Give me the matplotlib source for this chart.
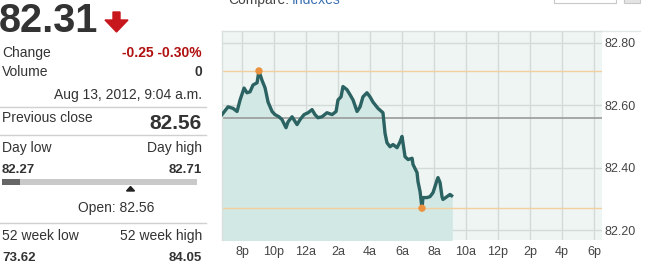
import matplotlib
matplotlib.use("Agg")
import matplotlib.pyplot as plt
import matplotlib.patches as mpatches
from matplotlib.lines import Line2D

plt.rcParams['font.family'] = ['Liberation Sans', 'DejaVu Sans']

# ===== data (hours since midnight Aug 12, price) =====
hours = [18.75, 19.13, 19.44, 19.69, 19.88, 20.13, 20.31, 20.5, 20.69, 20.94,
         21.06, 21.25, 21.44, 21.63, 21.88, 22.06, 22.31, 22.5, 22.75, 22.88,
         23.13, 23.44, 23.63, 23.88, 24.13, 24.38, 24.56, 24.75, 25.0, 25.31,
         25.63, 25.88, 26.0, 26.19, 26.31, 26.56, 26.75, 26.94, 27.19, 27.38,
         27.56, 27.81, 28.0, 28.19, 28.5, 28.81, 28.94, 29.06, 29.25, 29.44,
         29.69, 29.88, 30.0, 30.06, 30.19, 30.38, 30.63, 30.69, 30.94, 31.0,
         31.13, 31.25, 31.31, 31.56, 31.75, 31.94, 32.19, 32.25, 32.38, 32.5,
         32.56, 32.81, 33.0, 33.1]
prices = [82.570, 82.595, 82.590, 82.580, 82.617, 82.655, 82.640, 82.643, 82.665, 82.672,
          82.710, 82.680, 82.656, 82.610, 82.580, 82.570, 82.563, 82.554, 82.528, 82.547,
          82.563, 82.538, 82.554, 82.570, 82.576, 82.586, 82.570, 82.560, 82.563, 82.576,
          82.570, 82.580, 82.617, 82.627, 82.660, 82.650, 82.634, 82.617, 82.580, 82.595,
          82.627, 82.640, 82.627, 82.610, 82.590, 82.576, 82.510, 82.480, 82.467, 82.474,
          82.464, 82.483, 82.500, 82.480, 82.435, 82.426, 82.430, 82.410, 82.384, 82.355,
          82.323, 82.270, 82.304, 82.304, 82.307, 82.320, 82.360, 82.368, 82.352, 82.307,
          82.298, 82.307, 82.314, 82.310]

prev_close = 82.56
day_high = 82.71
day_low = 82.27
high_hour = 21.06
low_hour = 31.25

xticks = [20, 22, 24, 26, 28, 30, 32, 34, 36, 38, 40, 42]
xticklabels = ["8p", "10p", "12a", "2a", "4a", "6a", "8a", "10a", "12p", "2p", "4p", "6p"]
yticks = [82.2, 82.4, 82.6, 82.8]

W, H = 646, 267


def fx(x):
    return x / W


def fy(y):
    return 1 - y / H


fig = plt.figure(figsize=(W / 100, H / 100), dpi=100)
fig.patch.set_facecolor("white")

# ===== chart =====
ax = fig.add_axes([fx(222), fy(240), (602 - 222) / W, (240 - 31) / H])
ax.set_facecolor("#eff5f2")
ax.set_xlim(18.75, 42.5)
ax.set_ylim(82.168, 82.838)

ax.fill_between(hours, prices, 82.168, color="#d2e8e5", zorder=1)
ax.plot(hours, prices, color="#2b6262", lw=2.4, solid_joinstyle="round", zorder=4)

ax.axhline(prev_close, color="#9a9a9a", lw=1.2, zorder=2)
ax.axhline(day_high, color="#f2cf9c", lw=1.0, zorder=2)
ax.axhline(day_low, color="#f2cf9c", lw=1.0, zorder=2)
ax.scatter([high_hour, low_hour], [day_high, day_low], s=28, color="#eb9240",
           zorder=5, edgecolors="none")

ax.set_xticks(xticks)
ax.set_xticklabels(xticklabels)
ax.set_yticks(yticks)
ax.set_yticklabels(["%.2f" % v for v in yticks])
ax.yaxis.tick_right()
ax.tick_params(length=0, labelsize=9, labelcolor="#444444")
ax.tick_params(axis="y", pad=2)
ax.tick_params(axis="x", pad=4)
ax.grid(True, color="#d3dbd8", lw=1.0, zorder=0)
ax.set_axisbelow(True)
for s in ax.spines.values():
    s.set_color("#d9dfdc")
    s.set_linewidth(1.0)
ax.spines["bottom"].set_visible(False)
ax.spines["right"].set_visible(False)

# top strip (cut off at the top edge, as in the page capture)
fig.add_artist(Line2D([fx(602), fx(640)], [fy(31), fy(31)], color="#e3e8e6", lw=1.0))
fig.text(fx(228), fy(4), "Compare:", fontsize=10, color="#444444", va="baseline")
fig.text(fx(292), fy(4), "Indexes", fontsize=10, color="#3a6fb0", va="baseline")
fig.add_artist(mpatches.Rectangle((fx(554), fy(3)), fx(62), 10 / H, fill=False,
                                  ec="#c8c8c8", lw=0.8))
fig.add_artist(mpatches.Rectangle((fx(624), fy(3)), fx(16), 10 / H, fc="#e4e4e4",
                                  ec="#c8c8c8", lw=0.8))

# ===== left panel =====
dark = "#333333"
red = "#b01010"
R = 202

fig.text(fx(-1), fy(32), "82.31", fontsize=28.5, fontweight="bold", color=dark, va="baseline")
arrow = mpatches.Polygon([(fx(113), fy(12)), (fx(120), fy(12)), (fx(120), fy(20)),
                          (fx(128), fy(20)), (fx(116.5), fy(32)), (fx(105), fy(20)),
                          (fx(113), fy(20))], closed=True, color="#c8161d")
fig.add_artist(arrow)

fig.text(fx(2), fy(57), "Change", fontsize=10, color=dark, va="baseline")
fig.text(fx(R), fy(57), "-0.25 -0.30%", fontsize=10, fontweight="bold", color=red,
         ha="right", va="baseline")
fig.text(fx(2), fy(76), "Volume", fontsize=10, color=dark, va="baseline")
fig.text(fx(R), fy(76), "0", fontsize=10, fontweight="bold", color=dark, ha="right", va="baseline")
fig.text(fx(R), fy(99), "Aug 13, 2012, 9:04 a.m.", fontsize=10, color=dark, ha="right",
         va="baseline")
fig.add_artist(Line2D([fx(0), fx(206)], [fy(107), fy(107)], color="#d0d0d0", lw=1.0))

fig.text(fx(2), fy(122), "Previous close", fontsize=10, color=dark, va="baseline")
fig.text(fx(R), fy(129), "82.56", fontsize=15, fontweight="bold", color=dark, ha="right",
         va="baseline")
fig.add_artist(Line2D([fx(0), fx(206)], [fy(135), fy(135)], color="#d0d0d0", lw=1.0))

fig.text(fx(2), fy(152), "Day low", fontsize=10, color=dark, va="baseline")
fig.text(fx(R), fy(152), "Day high", fontsize=10, color=dark, ha="right", va="baseline")
fig.text(fx(2), fy(173), "82.27", fontsize=9.5, fontweight="bold", color=dark, va="baseline")
fig.text(fx(R), fy(173), "82.71", fontsize=9.5, fontweight="bold", color=dark, ha="right",
         va="baseline")

bar_l, bar_r = 2, 197
span = day_high - day_low
low_end = bar_l + (bar_r - bar_l) * (prices[-1] - day_low) / span
open_pos = bar_l + (bar_r - bar_l) * (prev_close - day_low) / span
fig.add_artist(mpatches.Rectangle((fx(bar_l), fy(185)), fx(bar_r - bar_l), 6 / H,
                                  fc="#c9c9c9", ec="none"))
fig.add_artist(mpatches.Rectangle((fx(bar_l), fy(185)), fx(low_end - bar_l), 6 / H,
                                  fc="#666666", ec="none"))
fig.add_artist(mpatches.Polygon([(fx(open_pos - 4), fy(191)), (fx(open_pos + 4), fy(191)),
                                 (fx(open_pos), fy(186.5))], closed=True, color="#222222"))
fig.text(fx(116), fy(212), "Open: 82.56", fontsize=10, color=dark, ha="center", va="baseline")
fig.add_artist(Line2D([fx(0), fx(206)], [fy(223), fy(223)], color="#d0d0d0", lw=1.0))

fig.text(fx(2), fy(240), "52 week low", fontsize=10, color=dark, va="baseline")
fig.text(fx(R), fy(240), "52 week high", fontsize=10, color=dark, ha="right", va="baseline")
fig.text(fx(2), fy(261), "73.62", fontsize=9.5, fontweight="bold", color=dark, va="baseline")
fig.text(fx(R), fy(261), "84.05", fontsize=9.5, fontweight="bold", color=dark, ha="right",
         va="baseline")

fig.savefig("out.png", dpi=100, facecolor="white")
